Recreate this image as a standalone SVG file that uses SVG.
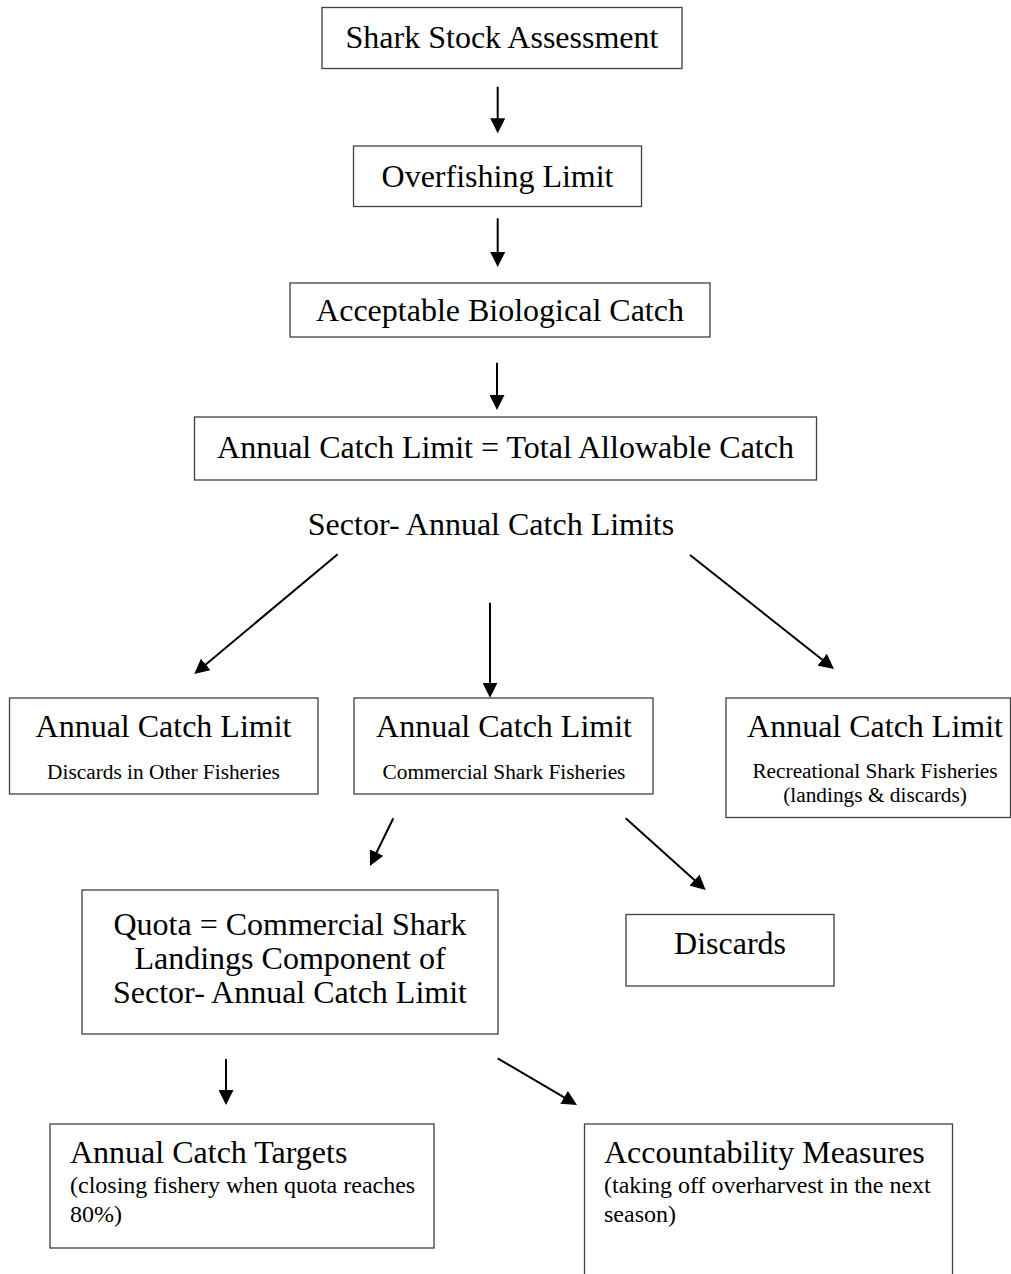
<svg xmlns="http://www.w3.org/2000/svg" width="1011" height="1274" viewBox="0 0 1011 1274">
<style>
.box{fill:#fff;stroke:#404040;stroke-width:1.3}
.t{font-family:"Liberation Serif","Times New Roman",serif;fill:#000}
.l{font-size:32px}
.m{font-size:24px}
.s{font-size:21.33px}
.c{text-anchor:middle}
.conn{stroke:#000;stroke-width:2;fill:none;marker-end:url(#ah)}
</style>
<defs>
<marker id="ah" markerUnits="userSpaceOnUse" markerWidth="15" markerHeight="15" refX="7" refY="7.5" orient="auto">
<path d="M0,0 L15,7.5 L0,15 z" fill="#000"/>
</marker>
</defs>
<rect width="1011" height="1274" fill="#fff"/>
<g id="n1"><rect class="box" x="322" y="7.5" width="360" height="61"/><text class="t l c" x="502" y="48">Shark Stock Assessment</text></g>
<g id="n2"><rect class="box" x="353.5" y="146" width="288" height="60.5"/><text class="t l c" x="497.5" y="187">Overfishing Limit</text></g>
<g id="n3"><rect class="box" x="290" y="283" width="420" height="54"/><text class="t l c" x="500" y="321">Acceptable Biological Catch</text></g>
<g id="n4"><rect class="box" x="194.5" y="417" width="622" height="63"/><text class="t l c" x="505.5" y="458">Annual Catch Limit = Total Allowable Catch</text></g>
<g id="n5"><text class="t l c" x="491" y="535">Sector- Annual Catch Limits</text></g>
<g id="n6"><rect class="box" x="9.5" y="698" width="308.5" height="96"/><text class="t l c" x="163.5" y="737">Annual Catch Limit</text><text class="t s c" x="163.5" y="779">Discards in Other Fisheries</text></g>
<g id="n7"><rect class="box" x="354" y="698" width="299" height="96"/><text class="t l c" x="504" y="737">Annual Catch Limit</text><text class="t s c" x="504" y="779">Commercial Shark Fisheries</text></g>
<g id="n8"><rect class="box" x="726" y="698" width="284.5" height="119.5"/><text class="t l c" x="875" y="737">Annual Catch Limit</text><text class="t s c" x="875" y="778">Recreational Shark Fisheries</text><text class="t s c" x="875" y="802">(landings &amp; discards)</text></g>
<g id="n9"><rect class="box" x="82" y="890" width="416" height="144"/><text class="t l c" x="290" y="935">Quota = Commercial Shark</text><text class="t l c" x="290" y="969">Landings Component of</text><text class="t l c" x="290" y="1003">Sector- Annual Catch Limit</text></g>
<g id="n10"><rect class="box" x="626" y="914.5" width="208" height="71.5"/><text class="t l c" x="730" y="954">Discards</text></g>
<g id="n11"><rect class="box" x="50" y="1124" width="384" height="124"/><text class="t l" x="70" y="1163">Annual Catch Targets</text><text class="t m" x="70" y="1193">(closing fishery when quota reaches</text><text class="t m" x="70" y="1222">80%)</text></g>
<g id="n12"><rect class="box" x="584.5" y="1124" width="368" height="170"/><text class="t l" x="604" y="1163">Accountability Measures</text><text class="t m" x="604" y="1193">(taking off overharvest in the next</text><text class="t m" x="604" y="1222">season)</text></g>
<g id="connectors">
<path class="conn" d="M497.7,86.7 L497.7,125.3"/>
<path class="conn" d="M497.7,218.3 L497.7,259"/>
<path class="conn" d="M497,362.7 L497,402"/>
<path class="conn" d="M337.7,554.3 L200.4,668.9"/>
<path class="conn" d="M490,602.7 L490,689.7"/>
<path class="conn" d="M690,555 L827.7,664"/>
<path class="conn" d="M393.3,818.3 L373.5,858.8"/>
<path class="conn" d="M625.7,818.3 L699.7,884.7"/>
<path class="conn" d="M226,1059 L226,1097"/>
<path class="conn" d="M497.7,1058.3 L570.1,1100.9"/>
</g>
</svg>
